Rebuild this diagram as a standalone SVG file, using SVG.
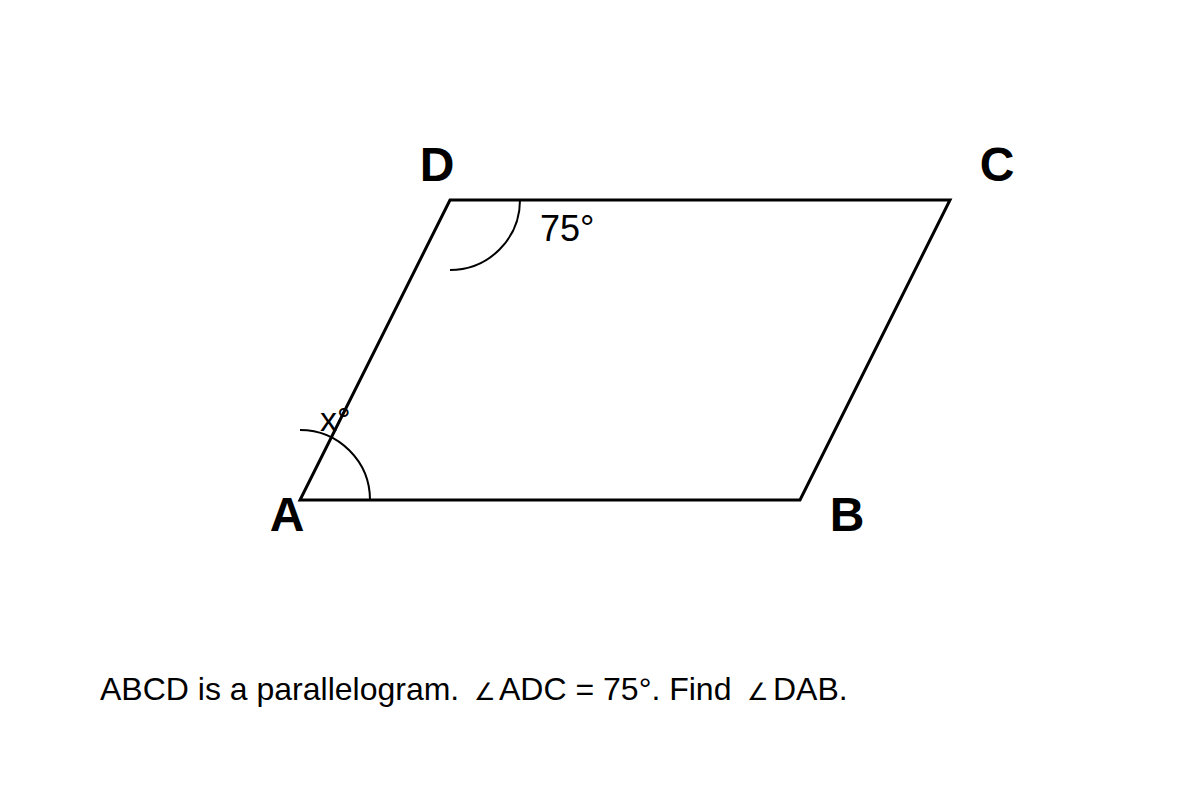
<svg xmlns="http://www.w3.org/2000/svg" width="1200" height="800" viewBox="0 0 1200 800">
<style>
.edge{fill:none;stroke:#000;stroke-width:3;stroke-linejoin:miter}
.arc{fill:none;stroke:#000;stroke-width:2}
.vlabel{font-family:"Liberation Sans",Arial,sans-serif;font-weight:bold;font-size:48px;fill:#000;text-anchor:middle}
.alabel{font-family:"Liberation Sans",Arial,sans-serif;font-size:36px;fill:#000}
.caption{font-family:"Liberation Sans",Arial,sans-serif;font-size:32px;fill:#000}
.ang{font-size:24px}
</style>
<rect width="1200" height="800" fill="#fff"/>
<g id="connectors">
<polygon class="edge" points="300,500 800,500 950,200 450,200"/>
<path class="arc" d="M300,430 A70,70 0 0 1 370,500"/>
<path class="arc" d="M520,200 A70,70 0 0 1 450,270"/>
</g>
<g id="A"><text class="vlabel" x="287" y="531">A</text></g>
<g id="B"><text class="vlabel" x="847" y="531">B</text></g>
<g id="C"><text class="vlabel" x="997" y="181">C</text></g>
<g id="D"><text class="vlabel" x="437" y="181">D</text></g>
<g id="angleD"><text class="alabel" x="540" y="241">75°</text></g>
<g id="angleA"><text class="alabel" x="320" y="431" style="font-size:34px">x°</text></g>
<g id="caption"><text class="caption" y="700"><tspan x="100">ABCD is a parallelogram.</tspan><tspan class="ang" x="474">∠</tspan><tspan x="499">ADC = 75°. Find</tspan><tspan class="ang" x="747">∠</tspan><tspan x="773">DAB.</tspan></text></g>
</svg>
